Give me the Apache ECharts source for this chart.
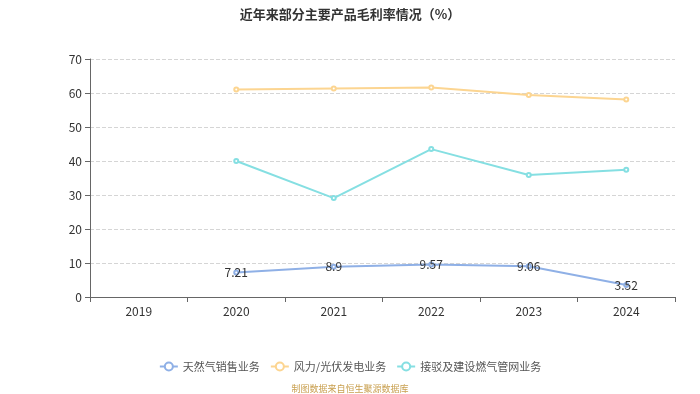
<!DOCTYPE html>
<html><head><meta charset="utf-8">
<script src="https://cdn.jsdelivr.net/npm/echarts@6/dist/echarts.min.js"></script>
<style>html,body{margin:0;padding:0;background:#fff}#c{width:700px;height:394px}</style>
</head><body><div id="c"></div>
<script>
const categories = ['2019','2020','2021','2022','2023','2024'];
const gasSales = [null, 7.21, 8.9, 9.57, 9.06, 3.52];
const windSolar = [null, 61.0, 61.3, 61.6, 59.4, 58.1];
const connection = [null, 40.0, 29.1, 43.5, 35.9, 37.4];
const seriesNames = ['天然气销售业务', '风力/光伏发电业务', '接驳及建设燃气管网业务'];
const colors = ['#8fb0e6', '#fcd591', '#85dfe2'];

const chart = echarts.init(document.getElementById('c'));
const font = '"Microsoft YaHei","Noto Sans CJK SC",sans-serif';
function mk(name, data, color, label) {
  return {
    name, type: 'line', data, connectNulls: false,
    symbol: 'emptyCircle', symbolSize: 4,
    lineStyle: { color, width: 2 },
    itemStyle: { color },
    label: label ? { show: true, position: 'inside', color: '#333', fontSize: 12, fontFamily: font } : { show: false }
  };
}
chart.setOption({
  animation: false,
  title: { text: '近年来部分主要产品毛利率情况（%）', left: 'center', top: 3,
    textStyle: { fontSize: 13, fontWeight: 'bold', color: '#333', fontFamily: font } },
  legend: { bottom: 17, itemGap: 10, itemWidth: 18, itemHeight: 10,
    textStyle: { fontSize: 11, color: '#555', fontFamily: font },
    data: seriesNames },
  grid: { left: 90, right: 25, top: 59, bottom: 97 },
  xAxis: { type: 'category', data: categories, boundaryGap: true,
    axisLine: { lineStyle: { color: '#666' } },
    axisTick: { show: true, lineStyle: { color: '#666' } },
    axisLabel: { color: '#333', fontSize: 12, fontFamily: font } },
  yAxis: { type: 'value', min: 0, max: 70, interval: 10,
    axisLine: { show: true, lineStyle: { color: '#666' } },
    axisTick: { show: true, lineStyle: { color: '#666' } },
    axisLabel: { color: '#333', fontSize: 12, fontFamily: font },
    splitLine: { lineStyle: { type: 'dashed', color: '#d5d5d5' } } },
  graphic: [{ type: 'text', left: 'center', bottom: 1,
    style: { text: '制图数据来自恒生聚源数据库', fill: '#c9a050', fontSize: 9, fontFamily: font } }],
  series: [
    mk(seriesNames[0], gasSales, colors[0], true),
    mk(seriesNames[1], windSolar, colors[1], false),
    mk(seriesNames[2], connection, colors[2], false)
  ]
});
</script></body></html>
